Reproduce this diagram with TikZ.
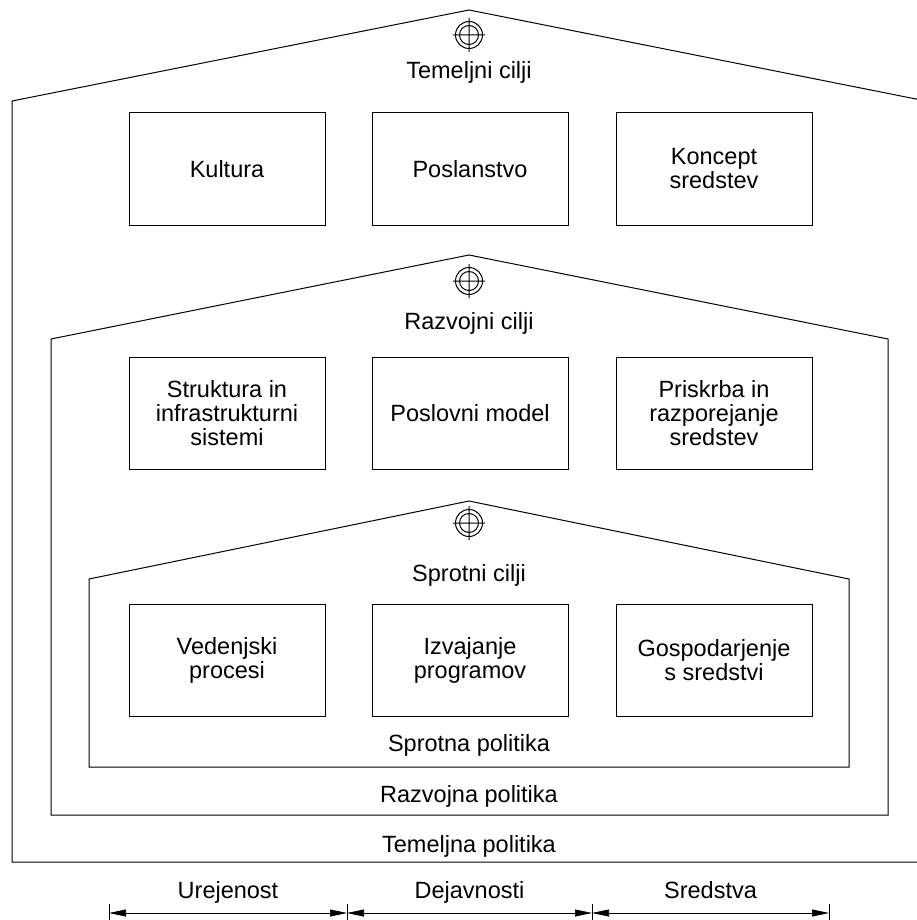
\documentclass[tikz,border=0pt]{standalone}
\usepackage{fontspec}
\setmainfont{Liberation Sans}
\usetikzlibrary{arrows.meta, calc, positioning}

\tikzset{
  box/.style={draw, line width=1pt, minimum width=196pt, minimum height=112pt,
    align=center, inner sep=0pt, font=\fontsize{23.5}{24}\selectfont},
  lbl/.style={inner sep=0pt, text height=17pt, text depth=5pt,
    font=\fontsize{23.5}{24}\selectfont},
  wall/.style={line width=1pt},
  target/.pic={
    \draw[line width=1pt] (0,0) circle (13.5) (0,0) circle (9.5)
      (-16,0) -- (16,0) (0,-17) -- (0,17);
  }
}

\begin{document}
\begin{tikzpicture}[x=1pt, y=-1pt, >={Triangle[length=17pt,width=7pt]}]
  \useasboundingbox (0,0) rectangle (916,920);

  % houses
  \draw[wall] (12,862) -- (12,101) -- (469,10) -- (926,101) -- (926,862) -- cycle;
  \draw[wall] (51,815) -- (51,339) -- (469,255) -- (888,339) -- (888,815) -- cycle;
  \draw[wall] (89,767) -- (89,579) -- (469,501) -- (849,579) -- (849,767) -- cycle;

  \path (469,35) pic {target} (469,281) pic {target} (469,523) pic {target};

  \node[lbl] (tcilji) at (469,73) {Temeljni cilji};
  \node[lbl] (rcilji) at (469,323) {Razvojni cilji};
  \node[lbl] (scilji) at (469,575) {Sprotni cilji};

  \node[lbl] (spol) at (469,745) {Sprotna politika};
  \node[lbl] (rpol) at (469,796) {Razvojna politika};
  \node[lbl] (tpol) at (469,846) {Temeljna politika};

  % boxes
  \node[box] (kultura) at (227,169) {Kultura};
  \node[box] (poslanstvo) at (470,169) {Poslanstvo};
  \node[box] (koncept) at (714,169) {Koncept\\sredstev};

  \node[box] (struktura) at (227,413) {Struktura in\\infrastrukturni\\sistemi};
  \node[box] (model) at (470,413) {Poslovni model};
  \node[box] (priskrba) at (714,413) {Priskrba in\\razporejanje\\sredstev};

  \node[box] (vedenje) at (227,660) {Vedenjski\\procesi};
  \node[box] (izvajanje) at (470,660) {Izvajanje\\programov};
  \node[box] (gospod) at (714,660) {Gospodarjenje\\s sredstvi};

  % dimension line
  \coordinate (d0) at (109,913);
  \coordinate (d1) at (347,913);
  \coordinate (d2) at (592,913);
  \coordinate (d3) at (829,913);
  \foreach \d in {d0,d1,d2,d3}
    \draw[line width=0.7pt] (\d) ++(0,-9) -- ++(0,20);
  \draw[<->, line width=0.7pt] (d0) -- (d1) node[midway, above=9pt, lbl] (urej) {Urejenost};
  \draw[<->, line width=0.7pt] (d1) -- (d2) node[midway, above=9pt, lbl] (dejav) {Dejavnosti};
  \draw[<->, line width=0.7pt] (d2) -- (d3) node[midway, above=9pt, lbl] (sreds) {Sredstva};
\end{tikzpicture}
\end{document}
